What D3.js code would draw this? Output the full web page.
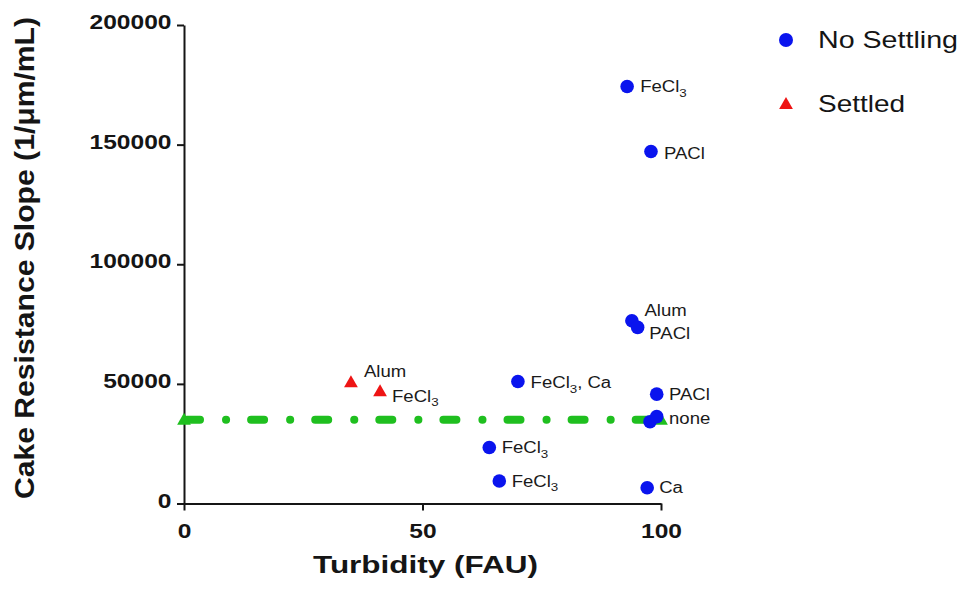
<!DOCTYPE html>
<html>
<head>
<meta charset="utf-8">
<script src="https://cdn.jsdelivr.net/npm/d3@7"></script>
<style>
  html, body { margin: 0; padding: 0; background: #fff; }
  svg { display: block; font-family: "Liberation Sans", Arial, Helvetica, sans-serif; }
</style>
</head>
<body>
<svg id="chart" width="963" height="589"></svg>
<script>
// Cake resistance slope vs. turbidity, by coagulant
const nsTurbidity = [92.9, 97.9, 93.9, 95.1, 70.0, 99.1, 97.7, 99.1, 64.0, 66.1, 97.1];
const nsSlope     = [174300, 147100, 76400, 73600, 51000, 45700, 34200, 36300, 23400, 9400, 6600];
const nsLabels    = ["FeCl3", "PACl", "Alum", "PACl", "FeCl3, Ca", "PACl", "", "none", "FeCl3", "FeCl3", "Ca"];

const stTurbidity = [35.0, 41.1];
const stSlope     = [50300, 46500];
const stLabels    = ["Alum", "FeCl3"];

const refTurbidity = [0, 100];
const refSlope     = 35000;

const xTicks = [0, 50, 100];
const yTicks = [0, 50000, 100000, 150000, 200000];

const seriesNames = ["No Settling", "Settled"];

// label placement relative to each marker (dx, dy)
const nsNudge = [[13, 6], [13, 7], [12.5, -4.6], [11.7, 12], [12.7, 6.6], [12.3, 5.7],
                 [0, 0], [12.3, 7.3], [12.4, 5.6], [12.4, 5.7], [12, 5.6]];
const stNudge = [[13, -6.6], [12, 9.3]];

const BLUE = "#0a14ee", RED = "#ee1414", GREEN = "#1fbf1f", INK = "#151515";

const svg = d3.select("#chart");
svg.append("rect").attr("width", 963).attr("height", 589).attr("fill", "#fff");

const x = d3.scaleLinear().domain([0, 100]).range([184, 661]);
const y = d3.scaleLinear().domain([0, 200000]).range([503.5, 25]);

// horizontal widening used for all text
function widen(sel, k) {
  sel.each(function () {
    const w = this.getComputedTextLength();
    d3.select(this).attr("textLength", w * k).attr("lengthAdjust", "spacingAndGlyphs");
  });
}

// axes
const yAxis = svg.append("g").attr("transform", `translate(${x(0)},0)`)
  .call(d3.axisLeft(y).tickValues(yTicks).tickFormat(d3.format("d")).tickSize(7).tickSizeOuter(0));
const xAxis = svg.append("g").attr("transform", `translate(0,${y(0)})`)
  .call(d3.axisBottom(x).tickValues(xTicks).tickFormat(d3.format("d")).tickSize(7).tickSizeOuter(0));

[yAxis, xAxis].forEach(g => {
  g.select(".domain").attr("stroke", INK).attr("stroke-width", 2);
  g.selectAll(".tick line").attr("stroke", INK).attr("stroke-width", 2);
  g.selectAll(".tick text")
    .attr("fill", INK).attr("font-size", 21).attr("font-weight", "bold")
    .attr("font-family", "Liberation Sans, Arial, sans-serif");
});
yAxis.selectAll(".tick text").attr("x", -12.5).attr("dy", 0).attr("y", 3.5);
xAxis.selectAll(".tick text").attr("dy", 0).attr("y", 34.5);
widen(yAxis.selectAll(".tick text"), 1.17);
widen(xAxis.selectAll(".tick text"), 1.17);

// axis titles
svg.append("text")
  .attr("x", (x(0) + x(100)) / 2 + 3).attr("y", 573)
  .attr("text-anchor", "middle").attr("font-size", 23).attr("font-weight", "bold").attr("fill", INK)
  .text("Turbidity (FAU)")
  .attr("textLength", 225).attr("lengthAdjust", "spacingAndGlyphs");

svg.append("text")
  .attr("transform", "translate(34,258) rotate(-90)")
  .attr("text-anchor", "middle").attr("font-size", 27).attr("font-weight", "bold").attr("fill", INK)
  .text("Cake Resistance Slope (1/\u03bcm/mL)")
  .attr("textLength", 482).attr("lengthAdjust", "spacingAndGlyphs");

// reference level
svg.append("line")
  .attr("x1", x(refTurbidity[0])).attr("x2", x(refTurbidity[1]))
  .attr("y1", y(refSlope)).attr("y2", y(refSlope))
  .attr("stroke", GREEN).attr("stroke-width", 8).attr("stroke-linecap", "round")
  .attr("stroke-dasharray", "13,26,0.1,25").attr("stroke-dashoffset", -3);

const tri = d3.symbol().type(d3.symbolTriangle).size(82);
svg.append("g").selectAll("path").data(refTurbidity).join("path")
  .attr("d", tri).attr("fill", GREEN)
  .attr("transform", d => `translate(${x(d)},${y(refSlope) + 1})`);

// markers
svg.append("g").selectAll("circle").data(nsTurbidity).join("circle")
  .attr("cx", d => x(d)).attr("cy", (d, i) => y(nsSlope[i])).attr("r", 6.8).attr("fill", BLUE);

svg.append("g").selectAll("path").data(stTurbidity).join("path")
  .attr("d", tri).attr("fill", RED)
  .attr("transform", (d, i) => `translate(${x(d)},${y(stSlope[i])})`);

// labels with subscript for FeCl3
function addLabel(g, label, px, py, nudge) {
  if (!label) return;
  const t = g.append("text")
    .attr("transform", `translate(${px + nudge[0]},${py + nudge[1]}) scale(1.16,1)`)
    .attr("font-size", 16).attr("fill", "#1a1a1a");
  const m = label.match(/^(.*?Cl)3(.*)$/);
  if (m) {
    t.append("tspan").text(m[1]);
    t.append("tspan").attr("font-size", 11.5).attr("dy", 4.5).text("3");
    if (m[2]) t.append("tspan").attr("dy", -4.5).text(m[2]);
  } else {
    t.text(label);
  }
}
const labelG = svg.append("g");
nsLabels.forEach((l, i) => addLabel(labelG, l, x(nsTurbidity[i]), y(nsSlope[i]), nsNudge[i]));
stLabels.forEach((l, i) => addLabel(labelG, l, x(stTurbidity[i]), y(stSlope[i]), stNudge[i]));

// legend
const legend = svg.append("g");
legend.append("circle").attr("cx", 786).attr("cy", 40).attr("r", 7).attr("fill", BLUE);
legend.append("path").attr("d", tri).attr("fill", RED).attr("transform", "translate(786,105)");
legend.append("text").attr("x", 818).attr("y", 48).attr("font-size", 24).attr("fill", INK)
  .text(seriesNames[0]).attr("textLength", 140).attr("lengthAdjust", "spacingAndGlyphs");
legend.append("text").attr("x", 818).attr("y", 112).attr("font-size", 24).attr("fill", INK)
  .text(seriesNames[1]).attr("textLength", 87).attr("lengthAdjust", "spacingAndGlyphs");
</script>
</body>
</html>
